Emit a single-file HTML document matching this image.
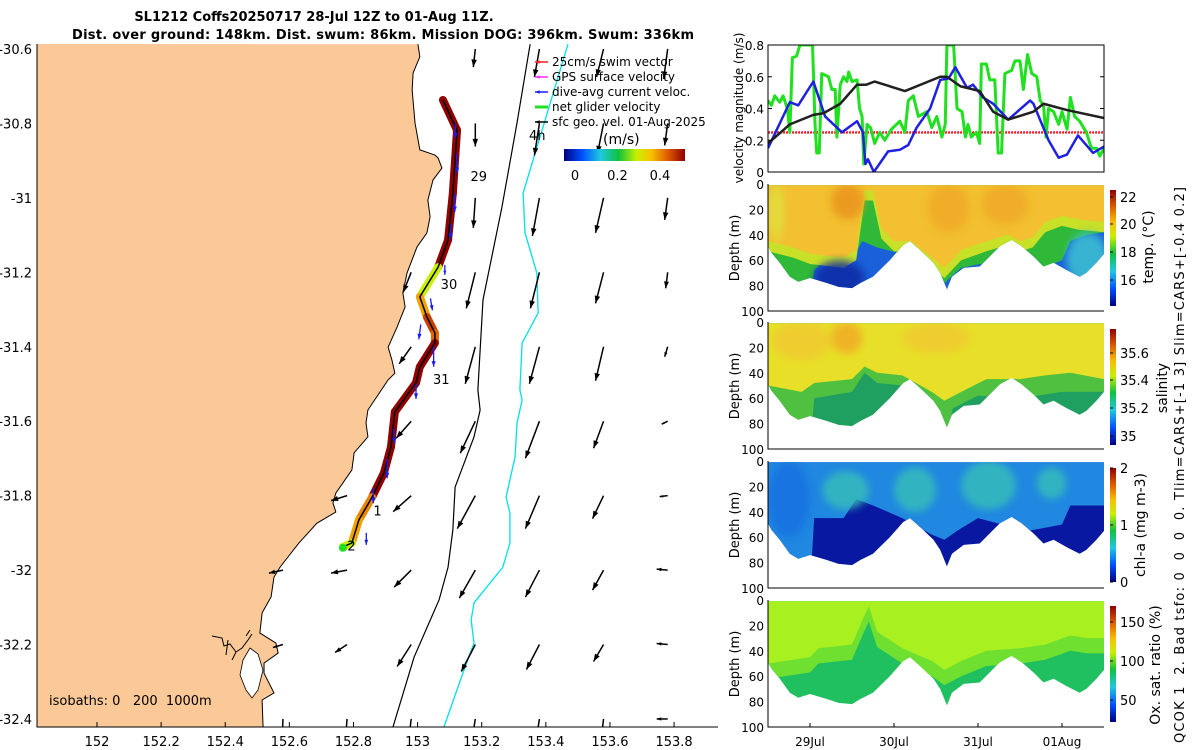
<!DOCTYPE html>
<html><head><meta charset="utf-8"><style>
html,body{margin:0;padding:0;background:#fff}
svg{display:block;font-family:"DejaVu Sans","Liberation Sans",sans-serif}
</style></head><body>
<svg id="fig" xmlns="http://www.w3.org/2000/svg" width="1200" height="750" viewBox="0 0 1200 750">
<defs>
<linearGradient id="jetH" x1="0" y1="0" x2="1" y2="0">
<stop offset="0" stop-color="#000080"/><stop offset="0.15" stop-color="#0050ff"/><stop offset="0.3" stop-color="#20c8e0"/><stop offset="0.45" stop-color="#10c040"/><stop offset="0.6" stop-color="#c8f000"/><stop offset="0.72" stop-color="#f8c000"/><stop offset="0.85" stop-color="#e06000"/><stop offset="1" stop-color="#900000"/>
</linearGradient>
<linearGradient id="jetV" x1="0" y1="1" x2="0" y2="0">
<stop offset="0" stop-color="#000080"/><stop offset="0.15" stop-color="#0050ff"/><stop offset="0.3" stop-color="#20c8e0"/><stop offset="0.45" stop-color="#10c040"/><stop offset="0.6" stop-color="#c8f000"/><stop offset="0.72" stop-color="#f8c000"/><stop offset="0.85" stop-color="#e06000"/><stop offset="1" stop-color="#900000"/>
</linearGradient>
<filter id="soft" x="-20%" y="-20%" width="140%" height="140%"><feGaussianBlur stdDeviation="4"/></filter>
<clipPath id="mapClip"><rect x="37" y="44" width="681" height="683"/></clipPath>
<clipPath id="velClip"><rect x="768" y="45" width="336" height="127"/></clipPath>
</defs>
<text x="314" y="21" text-anchor="middle" font-size="13" font-weight="bold">SL1212 Coffs20250717 28-Jul 12Z to 01-Aug 11Z.</text>
<text x="383" y="39" text-anchor="middle" font-size="13" font-weight="bold" textLength="622">Dist. over ground: 148km. Dist. swum: 86km. Mission DOG: 396km. Swum: 336km</text>
<g id="map"></g>
<g id="vel"></g>
<g id="sec"></g>
<text transform="translate(1184,465) rotate(-90)" text-anchor="middle" font-size="13" textLength="556" style="white-space:pre">QCOK 1  2. Bad tsfo: 0  0  0  0. Tlim=CARS+[-1 3] Slim=CARS+[-0.4 0.2]</text>
</svg>
<script>
// ===== MAP DATA =====
const coastLon=[153.001,153.007,152.986,152.983,152.992,153.007,153.054,153.064,153.076,153.048,153.032,153.039,153.029,152.998,152.967,152.954,152.961,152.936,152.908,152.920,152.929,152.908,152.845,152.839,152.845,152.802,152.795,152.745,152.736,152.745,152.686,152.630,152.571,152.552,152.543,152.515,152.508,152.558,152.565,152.521,152.521,152.552,152.515,152.518];
const coastLat=[-30.587,-30.621,-30.664,-30.710,-30.799,-30.871,-30.885,-30.893,-30.920,-30.952,-31.006,-31.051,-31.094,-31.132,-31.202,-31.255,-31.293,-31.347,-31.401,-31.436,-31.471,-31.489,-31.570,-31.605,-31.642,-31.685,-31.731,-31.793,-31.820,-31.844,-31.874,-31.927,-31.992,-32.019,-32.072,-32.115,-32.169,-32.196,-32.223,-32.250,-32.277,-32.330,-32.349,-32.422];
const iso200Lon=[153.351,153.310,153.263,153.204,153.188,153.195,153.176,153.117,153.110,153.095,153.067,152.989,152.923];
const iso200Lat=[-30.587,-30.799,-31.025,-31.274,-31.516,-31.570,-31.642,-31.777,-31.892,-31.992,-32.080,-32.234,-32.422];
const iso1000Lon=[153.469,153.382,153.329,153.335,153.372,153.376,153.326,153.319,153.326,153.310,153.304,153.276,153.288,153.288,153.266,153.176,153.167,153.176,153.145,153.082];
const iso1000Lat=[-30.587,-30.836,-30.987,-31.094,-31.202,-31.309,-31.390,-31.516,-31.543,-31.605,-31.696,-31.804,-31.847,-31.927,-31.992,-32.088,-32.134,-32.196,-32.268,-32.422];
const trackLon=[153.079,153.123,153.110,153.095,153.064,153.007,153.029,153.054,153.054,153.007,152.995,152.929,152.917,152.895,152.858,152.817,152.795,152.767];
const trackLat=[-30.737,-30.818,-30.987,-31.113,-31.186,-31.266,-31.320,-31.363,-31.390,-31.454,-31.497,-31.575,-31.669,-31.739,-31.804,-31.865,-31.927,-31.938];
const trackSpeed=[0.5,0.5,0.5,0.5,0.3,0.38,0.45,0.42,0.5,0.5,0.5,0.5,0.5,0.5,0.4,0.38,0.3];
const dayLabels=["29","30","31","1","2"];
const dayLon=[153.165,153.072,153.048,152.862,152.781];
const dayLat=[-30.954,-31.245,-31.500,-31.854,-31.948];
const arrowColLon=[152.58,152.78,152.98,153.18,153.38,153.58,153.78];
const arrowRowLat=[-30.6,-30.8,-31.0,-31.2,-31.4,-31.6,-31.8,-32.0,-32.2,-32.4];
const arrowU=[
[null,null,null,-0.02,-0.05,-0.07,-0.04],
[null,null,null,0.0,-0.05,-0.06,-0.03],
[null,null,null,-0.02,-0.07,-0.08,-0.03],
[null,null,-0.08,-0.09,-0.09,-0.08,-0.02],
[null,null,-0.12,-0.10,-0.10,-0.08,-0.03],
[null,null,-0.15,-0.15,-0.14,-0.10,-0.06],
[null,-0.16,-0.18,-0.18,-0.14,-0.11,-0.08],
[-0.14,-0.16,-0.17,-0.16,-0.14,-0.11,-0.11],
[-0.10,-0.12,-0.14,-0.14,-0.13,-0.10,-0.11],
[-0.01,-0.02,-0.03,-0.04,-0.04,-0.03,-0.11]];
const arrowV=[
[null,null,null,-0.18,-0.28,-0.28,-0.30],
[null,null,null,-0.23,-0.32,-0.30,-0.22],
[null,null,null,-0.30,-0.38,-0.35,-0.22],
[null,null,-0.20,-0.36,-0.36,-0.31,-0.16],
[null,null,-0.17,-0.37,-0.37,-0.34,-0.10],
[null,null,-0.17,-0.32,-0.37,-0.27,-0.03],
[null,-0.05,-0.16,-0.33,-0.33,-0.23,-0.01],
[-0.03,-0.03,-0.17,-0.28,-0.27,-0.20,0.01],
[-0.03,-0.08,-0.22,-0.27,-0.25,-0.17,0.01],
[-0.25,-0.25,-0.25,-0.25,-0.25,-0.25,0.0]];
const diveLon=[153.118,153.121,153.116,153.105,153.085,153.040,153.010,153.050,152.995,152.925,152.905,152.862,152.840];
const diveLat=[-30.80,-30.88,-30.99,-31.07,-31.18,-31.27,-31.34,-31.40,-31.50,-31.62,-31.70,-31.78,-31.90];
const diveU=[0.0,0.01,0.0,-0.01,0.0,0.02,-0.02,0.0,0.0,0.01,0.0,0.0,0.0];
const diveV=[-0.15,-0.2,-0.18,-0.15,-0.1,-0.12,-0.15,-0.2,-0.15,-0.15,-0.2,-0.15,-0.12];
const lonTicks=[152,152.2,152.4,152.6,152.8,153,153.2,153.4,153.6,153.8];
const latTicks=[-30.6,-30.8,-31,-31.2,-31.4,-31.6,-31.8,-32,-32.2,-32.4];

// ===== VELOCITY DATA (days since 28-Jul 12Z) =====
const greenT=[0,.04,.08,.14,.18,.23,.26,.29,.34,.38,.50,.53,.56,.58,.61,.64,.72,.76,.80,.82,.86,.90,.94,.96,1.00,1.06,1.09,1.12,1.14,1.18,1.22,1.27,1.33,1.39,1.47,1.57,1.63,1.67,1.73,1.79,1.89,1.95,2.01,2.07,2.11,2.13,2.21,2.25,2.31,2.35,2.38,2.42,2.48,2.52,2.54,2.60,2.64,2.70,2.74,2.78,2.82,2.90,2.94,3.00,3.04,3.09,3.14,3.20,3.24,3.28,3.31,3.34,3.40,3.46,3.50,3.56,3.60,3.65,3.71,3.79,3.85,3.91,3.95,4.00];
const greenV=[.45,.42,.48,.44,.48,.40,.25,.72,.73,.80,.80,.80,.30,.12,.12,.62,.60,.52,.52,.22,.55,.60,.57,.63,.57,.58,.40,.35,.05,.30,.28,.18,.25,.20,.27,.32,.25,.45,.48,.35,.38,.28,.35,.22,.30,.80,.80,.40,.38,.22,.30,.22,.25,.18,.68,.68,.58,.58,.12,.12,.62,.64,.70,.70,.52,.74,.62,.60,.45,.42,.22,.40,.38,.30,.38,.27,.47,.35,.32,.25,.15,.15,.10,.15];
const blueT=[0,.26,.36,.54,.68,.82,.88,1.06,1.13,1.16,1.19,1.26,1.43,1.57,1.67,1.77,1.93,2.05,2.15,2.23,2.37,2.44,2.56,2.68,2.86,3.12,3.16,3.34,3.46,3.56,3.69,3.87,4.0];
const blueV=[.15,.44,.42,.57,.35,.28,.25,.32,.25,.05,.08,0,.13,.14,.17,.28,.40,.58,.59,.66,.53,.55,.47,.43,.33,.45,.43,.20,.09,.11,.23,.12,.16];
const blackT=[0,.26,.54,.66,.86,1.06,1.17,1.27,1.63,2.05,2.13,2.29,2.52,2.68,2.86,3.16,3.28,3.56,4.0];
const blackV=[.18,.30,.36,.37,.43,.55,.55,.57,.51,.60,.60,.54,.51,.38,.33,.38,.43,.39,.34];
const swimSpeed=0.25;
const velTicks=[0,0.2,0.4,0.6,0.8];
const dateTickT=[0.5,1.5,2.5,3.5];
const dateTickLabels=["29Jul","30Jul","31Jul","01Aug"];

// ===== SECTION DATA =====
const envT=[0,.04,.14,.26,.36,.5,.7,.84,1.0,1.10,1.25,1.45,1.61,1.69,1.81,1.97,2.05,2.13,2.19,2.33,2.52,2.64,2.76,2.90,3.02,3.16,3.28,3.40,3.56,3.71,3.79,3.91,4.0];
const envDepth=[49,54,62,73,77,74,78,81,82,78,73,60,48,45,52,62,70,83,73,66,65,57,49,44,49,57,65,62,68,73,70,62,55];
const depthTicks=[0,20,40,60,80,100];
const tempDeepT=[0,.5,.55,.65,1.0,1.12,1.3,1.6,1.95,2.1,2.3,2.6,3.0,3.2,3.5,3.6,3.8,4.0];
const tempDeepD=[100,100,68,62,60,45,50,55,70,78,66,62,65,68,60,45,40,38];
const tempTopT=[0,.3,.5,.9,1.05,1.15,1.25,1.35,1.5,1.7,1.95,2.1,2.3,2.6,2.85,3.0,3.15,3.3,3.5,3.7,4.0];
const tempTopD=[45,50,55,58,52,5,5,35,45,45,58,66,52,45,40,45,42,30,25,28,30];
const salDeepT=[0,.5,.55,1.0,1.15,1.3,1.6,2.0,2.1,2.2,2.5,3.0,3.5,4.0];
const salDeepD=[100,100,60,55,40,48,50,65,100,68,58,60,55,55];
const salTopT=[0,.4,.55,1.0,1.15,1.3,1.6,1.95,2.1,2.3,2.6,3.0,3.3,3.6,4.0];
const salTopD=[50,55,48,45,35,40,42,55,62,55,45,45,42,40,45];
const chlT=[0,.5,.55,.9,1.05,1.25,1.6,1.95,2.1,2.25,2.5,2.9,3.1,3.5,3.6,4.0];
const chlD=[100,100,45,45,30,35,45,58,62,55,45,52,55,50,35,35];
const oxT=[0,.5,.6,1.0,1.13,1.2,1.3,1.6,1.95,2.1,2.3,2.6,3.0,3.3,3.6,3.8,4.0];
const oxD=[50,45,38,35,15,5,25,38,48,55,48,40,38,35,28,30,30];

// ===== helpers =====
const NS="http://www.w3.org/2000/svg";
function mk(tag,attrs,parent){const e=document.createElementNS(NS,tag);for(const k in attrs)e.setAttribute(k,attrs[k]);parent.appendChild(e);return e;}
function jet(v){const st=[[0,[0,0,128]],[.15,[0,80,255]],[.3,[32,200,224]],[.45,[16,192,64]],[.6,[200,240,0]],[.72,[248,192,0]],[.85,[224,96,0]],[1,[144,0,0]]];v=Math.max(0,Math.min(1,v));for(let i=1;i<st.length;i++){if(v<=st[i][0]){const a=st[i-1],b=st[i],f=(v-a[0])/(b[0]-a[0]);return "rgb("+a[1].map((c,j)=>Math.round(c+(b[1][j]-c)*f)).join(",")+")";}}return "rgb(144,0,0)";}
const lx=lon=>97+(lon-152)*320.6;
const ly=lat=>49+(-30.6-lat)*372.2;
function arrow(g,x1,y1,x2,y2,col,w,hs){
  mk('line',{x1:x1,y1:y1,x2:x2,y2:y2,stroke:col,'stroke-width':w},g);
  const ang=Math.atan2(y2-y1,x2-x1),L=Math.hypot(x2-x1,y2-y1),h=Math.min(hs,L*0.45);
  const p=[[x2,y2],[x2-h*Math.cos(ang-0.35),y2-h*Math.sin(ang-0.35)],[x2-h*Math.cos(ang+0.35),y2-h*Math.sin(ang+0.35)]];
  mk('polygon',{points:p.map(q=>q.join(',')).join(' '),fill:col},g);
}

// ===== MAP =====
const map=document.getElementById('map');
const mg=mk('g',{'clip-path':'url(#mapClip)'},map);
let pts="37,44 "+coastLon.map((v,i)=>lx(v)+","+ly(coastLat[i])).join(" ")+" 37,727";
const land=mk('polygon',{points:pts,fill:'#fbc997',stroke:'none'},mg);


const coast=mk('polyline',{points:coastLon.map((v,i)=>lx(v)+","+ly(coastLat[i])).join(" "),fill:'none',stroke:'#000','stroke-width':1},mg);


const lake=mk('polygon',{points:"243,660 250,648 258,654 263,670 258,690 252,698 246,690 240,675",fill:'#fff',stroke:'#000','stroke-width':0.8},mg);


const inlet=mk('path',{d:"M212,636 L222,638 L224,646 L230,644 L236,652 L242,648 L248,640 L252,634 M236,652 L232,660 M246,636 L250,630 M228,640 L226,655",fill:'none',stroke:'#000','stroke-width':1},mg);


const i200=mk('polyline',{points:iso200Lon.map((v,i)=>lx(v)+","+ly(iso200Lat[i])).join(" "),fill:'none',stroke:'#000','stroke-width':1.2},mg);


const i1000=mk('polyline',{points:iso1000Lon.map((v,i)=>lx(v)+","+ly(iso1000Lat[i])).join(" "),fill:'none',stroke:'#00e0e8','stroke-width':1.3},mg);


const AS=100;
for(let r=0;r<arrowRowLat.length;r++)for(let c=0;c<arrowColLon.length;c++){
  const u=arrowU[r][c],v=arrowV[r][c]; if(u===null)continue;
  const x1=lx(arrowColLon[c]),y1=ly(arrowRowLat[r]);
  const g=mk('g',{},mg);
  
  
  arrow(g,x1,y1,x1+u*AS,y1-v*AS,'#000',1.5,8);
}
const tg=mk('g',{},mg);


for(let i=0;i<trackLon.length-1;i++){
  const s=mk('line',{x1:lx(trackLon[i]),y1:ly(trackLat[i]),x2:lx(trackLon[i+1]),y2:ly(trackLat[i+1]),stroke:jet(trackSpeed[i]/0.5),'stroke-width':8,'stroke-linecap':'round'},tg);
  
  
}
const tl=mk('polyline',{points:trackLon.map((v,i)=>lx(v)+","+ly(trackLat[i])).join(" "),fill:'none',stroke:'#000','stroke-width':1.5},tg);


const gs=mk('circle',{cx:lx(152.767),cy:ly(-31.94),r:4,fill:'#20e020'},tg);


for(let i=0;i<diveLon.length;i++){
  const g=mk('g',{},mg);
  
  
  const x1=lx(diveLon[i]),y1=ly(diveLat[i]);
  arrow(g,x1,y1,x1+diveU[i]*AS,y1-diveV[i]*AS,'#1a1aff',1.3,6);
}
for(let i=0;i<dayLabels.length;i++){
  const t=mk('text',{x:lx(dayLon[i]),y:ly(dayLat[i]),'font-size':13},mg);
  t.textContent=dayLabels[i];
  
  
}
const h4=mk('text',{x:529,y:140,'font-size':13},mg);h4.textContent="4h";


const ax=mk('path',{d:"M37,44 V727 H718",fill:'none',stroke:'#000','stroke-width':1},map);


lonTicks.forEach(v=>{
  const t=mk('text',{x:lx(v),y:746,'font-size':13,'text-anchor':'middle'},map);t.textContent=String(v);
  
  
  const k=mk('line',{x1:lx(v),y1:727,x2:lx(v),y2:722,stroke:'#000'},map);
  
  
});
latTicks.forEach(v=>{
  const t=mk('text',{x:32,y:ly(v)+5,'font-size':13,'text-anchor':'end'},map);t.textContent=String(v);
  
  
});
const iso=mk('text',{x:49,y:705,'font-size':13,style:'white-space:pre'},map);iso.textContent="isobaths: 0   200  1000m";


const legCols=['#ff2020','#ff30ff','#1a1aff','#20e020','#000'];
const legTxt=['25cm/s swim vector','GPS surface velocity','dive-avg current veloc.','net glider velocity','sfc geo. vel. 01-Aug-2025'];
legTxt.forEach((s,i)=>{
  const y=62+i*15;
  const g=mk('g',{},map);
  
  
  arrow(g,548,y,535,y,legCols[i],i==3?3:1.5,5);
  const t=mk('text',{x:552,y:y+4,'font-size':12},g);t.textContent=s;
});
const cbm=mk('rect',{x:564,y:149,width:121,height:12,fill:'url(#jetH)'},map);


const cbt=mk('text',{x:603,y:144,'font-size':14},map);cbt.textContent="(m/s)";


[0,0.2,0.4].forEach(v=>{
  const x=575+v*212.5;
  const t=mk('text',{x:x,y:180,'font-size':13,'text-anchor':'middle'},map);t.textContent=String(v);
  
  
});

// ===== VELOCITY PANEL =====
const vel=document.getElementById('vel');
const vx=d=>768+d*84, vy=v=>172-v*158.75;
const vg=mk('g',{'clip-path':'url(#velClip)'},vel);
const sw=mk('line',{x1:768,x2:1104,y1:vy(swimSpeed),y2:vy(swimSpeed),stroke:'#ff2020','stroke-width':2.5,'stroke-dasharray':'2,1'},vg);


const sw2=mk('line',{x1:768,x2:1104,y1:vy(swimSpeed)-1,y2:vy(swimSpeed)-1,stroke:'#ff90ff','stroke-width':0.8,'stroke-dasharray':'1,2'},vg);


function series(T,V,col,w,name){
  const p=mk('polyline',{points:T.map((t,i)=>vx(t)+","+vy(V[i])).join(" "),fill:'none',stroke:col,'stroke-width':w,'stroke-linejoin':'round'},vg);
  
  
}
series(greenT,greenV,'#20e020',3,'net-glider-velocity-line');
series(blueT,blueV,'#2020e0',2.5,'dive-avg-current-line');
series(blackT,blackV,'#202020',2.5,'sfc-geo-velocity-line');
const vb=mk('rect',{x:768,y:45,width:336,height:127,fill:'none',stroke:'#000','stroke-width':1},vel);


velTicks.forEach(v=>{
  const t=mk('text',{x:764,y:vy(v)+5,'font-size':12,'text-anchor':'end'},vel);t.textContent=String(v);
  
  
  const k=mk('path',{d:`M768,${vy(v)}h4M1104,${vy(v)}h-4`,stroke:'#000'},vel);
  
  
});
const vyl=mk('text',{transform:'translate(743,108) rotate(-90)','font-size':12,'text-anchor':'middle'},vel);vyl.textContent="velocity magnitude (m/s)";



// ===== SECTIONS =====
const sec=document.getElementById('sec');
const PX=1.27;
function layerPath(top,T,D,d0){
  let s=`M${vx(T[0])},${top+d0*PX} `;
  T.forEach((t,i)=>{s+=`L${vx(t)},${top+D[i]*PX} `;});
  s+=`L${vx(T[T.length-1])},${top+d0*PX}Z`;return s;
}
function section(idx,top,name,cfg){
  const g=mk('g',{},sec);
  
  
  const cp=mk('clipPath',{id:'env'+idx},g);
  mk('path',{d:layerPath(top,envT,envDepth,1)},cp);
  const fg=mk('g',{'clip-path':`url(#env${idx})`},g);
  const base=mk('rect',{x:768,y:top,width:336,height:110,fill:cfg.base},fg);
  
  
  cfg.layers.forEach(L=>{
    const p=mk('path',{d:layerPath(top,L.T,L.D,0),fill:L.c},fg);
    
    
  });
  cfg.patches.forEach(P=>{
    const e=mk('ellipse',{cx:vx((P[0]+P[1])/2),cy:top+(P[2]+P[3])/2*PX,rx:(P[1]-P[0])/2*84,ry:(P[3]-P[2])/2*PX,fill:P[4],opacity:0.8,filter:'url(#soft)'},fg);
    
    
  });
  const a=mk('path',{d:`M768,${top} V${top+127} H1104`,fill:'none',stroke:'#000'},g);
  
  
  depthTicks.forEach(v=>{
    const t=mk('text',{x:764,y:top+v*PX+5,'font-size':12,'text-anchor':'end'},g);t.textContent=String(v);
    
    
  });
  const yl=mk('text',{transform:`translate(739,${top+64}) rotate(-90)`,'font-size':13,'text-anchor':'middle'},g);yl.textContent="Depth (m)";
  
  
  const cb=mk('rect',{x:1110,y:cfg.cb[0],width:6,height:cfg.cb[1]-cfg.cb[0],fill:'url(#jetV)'},g);
  
  
  cfg.ticks.forEach(tk=>{
    const t=mk('text',{x:1120,y:tk[1]+5,'font-size':13},g);t.textContent=tk[0];
    
    
    const m=mk('line',{x1:1110,x2:1113,y1:tk[1],y2:tk[1],stroke:'#000'},g);
    
    
  });
  const lb=mk('text',{transform:`translate(${cfg.lab[0]},${cfg.lab[1]}) rotate(-90)`,'font-size':14,'text-anchor':'middle'},g);lb.textContent=cfg.title;
  
  
}
section(0,184,'temperature-section',{base:'#1a60d8',
  layers:[{T:tempDeepT,D:tempDeepD,c:'#30b838'},{T:tempTopT,D:tempTopD.map(v=>v+8),c:'#c8e028'},{T:tempTopT,D:tempTopD,c:'#f2c030'}],
  patches:[[0.75,1.15,0,28,'#e8921e'],[1.9,2.4,0,38,'#f0a828'],[2.55,3.1,0,32,'#f0a828'],[0,0.2,0,45,'#e0e040'],[0.55,1.15,60,90,'#0a28a0'],[3.55,4.05,38,80,'#40c8d0']],
  cb:[190,306],ticks:[['22',197],['20',224],['18',252],['16',280]],title:'temp. (°C)',lab:[1153,247]});
section(1,322,'salinity-section',{base:'#20a060',
  layers:[{T:salDeepT,D:salDeepD,c:'#50c040'},{T:salTopT,D:salTopD,c:'#e8e028'}],
  patches:[[0.05,0.75,0,30,'#f0c830'],[0.75,1.12,0,25,'#f0a828'],[1.6,2.4,0,25,'#f0c830']],
  cb:[329,445],ticks:[['35.6',353],['35.4',380],['35.2',408],['35',436]],title:'salinity',lab:[1167,388]});
section(2,461,'chlorophyll-section',{base:'#0818a0',
  layers:[{T:chlT,D:chlD,c:'#2088e0'}],
  patches:[[0.65,1.2,8,38,'#38c0b8'],[1.5,2.0,5,40,'#38c0b8'],[2.3,2.95,0,38,'#38c0b8'],[3.2,3.55,5,30,'#38c0b8'],[0,0.5,0,60,'#1870e0']],
  cb:[468,582],ticks:[['2',468],['1',525],['0',582]],title:'chl-a (mg m-3)',lab:[1145,525]});
section(3,600,'oxygen-section',{base:'#20c060',
  layers:[{T:oxT,D:oxD.map(v=>v+12),c:'#70e030'},{T:oxT,D:oxD,c:'#a8f020'}],
  patches:[],
  cb:[606,722],ticks:[['150',622],['100',661],['50',700]],title:'Ox. sat. ratio (%)',lab:[1160,665]});
dateTickT.forEach((t,i)=>{
  const x=vx(t);
  const k=mk('line',{x1:x,x2:x,y1:727,y2:723,stroke:'#000'},sec);
  
  
  const l=mk('text',{x:x,y:746,'font-size':12,'text-anchor':'middle'},sec);l.textContent=dateTickLabels[i];
  
  
});
</script>
</body></html>
